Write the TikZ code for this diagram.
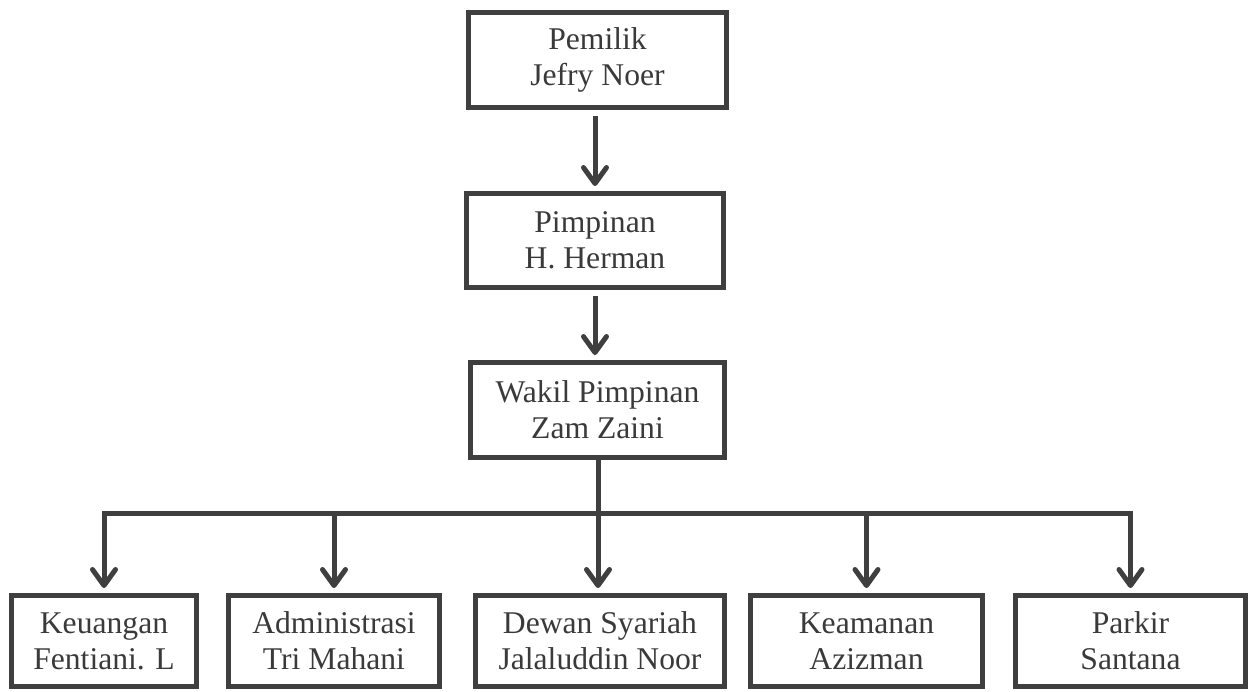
\documentclass[tikz,border=0pt]{standalone}
\usepackage{fontspec}
\setmainfont{Liberation Serif}
\usetikzlibrary{arrows.meta}
\definecolor{linegray}{HTML}{3F3F3F}
\definecolor{textgray}{HTML}{3A3A3A}

\begin{document}
\begin{tikzpicture}[x=0.02cm, y=-0.02cm,
		box/.style={draw=linegray, line width=0.1cm, fill=white, text=textgray, align=center, inner sep=0pt, font=\fontsize{18}{20.5}\selectfont, minimum height=1.9cm},
		unit/.style={box, minimum height=1.82cm},
		link/.style={draw=linegray, line width=0.1cm},
		arr/.style={link, -{Straight Barb[length=0.32cm, width=0.46cm, round]}, shorten >=0.1cm}]
	\useasboundingbox (0,0) rectangle (1249,691);
	% top of the chart
	\node[box, minimum width=5.16cm] (pem) at (597.5,60) {Pemilik\\Jefry Noer};
	\node[box, minimum width=5.14cm, minimum height=1.88cm] (pim) at (595,240.5) {Pimpinan\\H. Herman};
	\node[box, minimum width=5.08cm] (wak) at (597.5,410) {Wakil Pimpinan\\Zam Zaini};
	% units
	\node[unit, minimum width=3.7cm] (keu) at (104,641) {Keuangan\\Fentiani. L};
	\node[unit, minimum width=4.22cm] (adm) at (334,641) {Administrasi\\Tri Mahani};
	\node[unit, minimum width=4.98cm] (dew) at (600,641) {Dewan Syariah\\Jalaluddin Noor};
	\node[unit, minimum width=4.64cm] (kea) at (866.5,641) {Keamanan\\Azizman};
	\node[unit, minimum width=4.6cm] (par) at (1130.5,641) {Parkir\\Santana};
	\coordinate (bus) at (598,513);

	\draw[arr, shorten <=0.12cm] (pem.south -| pim.north) -- (pim.north);
	\draw[arr, shorten <=0.12cm] (pim.south) -- (pim.south |- wak.north);
	\draw[link] (wak.south -| bus) -- (bus);
	\draw[arr] (bus) -| (keu.north);
	\draw[arr] (bus) -| (par.north);
	\draw[arr] (bus -| adm.north) -- (adm.north);
	\draw[arr] (bus) -- (bus |- dew.north);
	\draw[arr] (bus -| kea.north) -- (kea.north);
\end{tikzpicture}
\end{document}
